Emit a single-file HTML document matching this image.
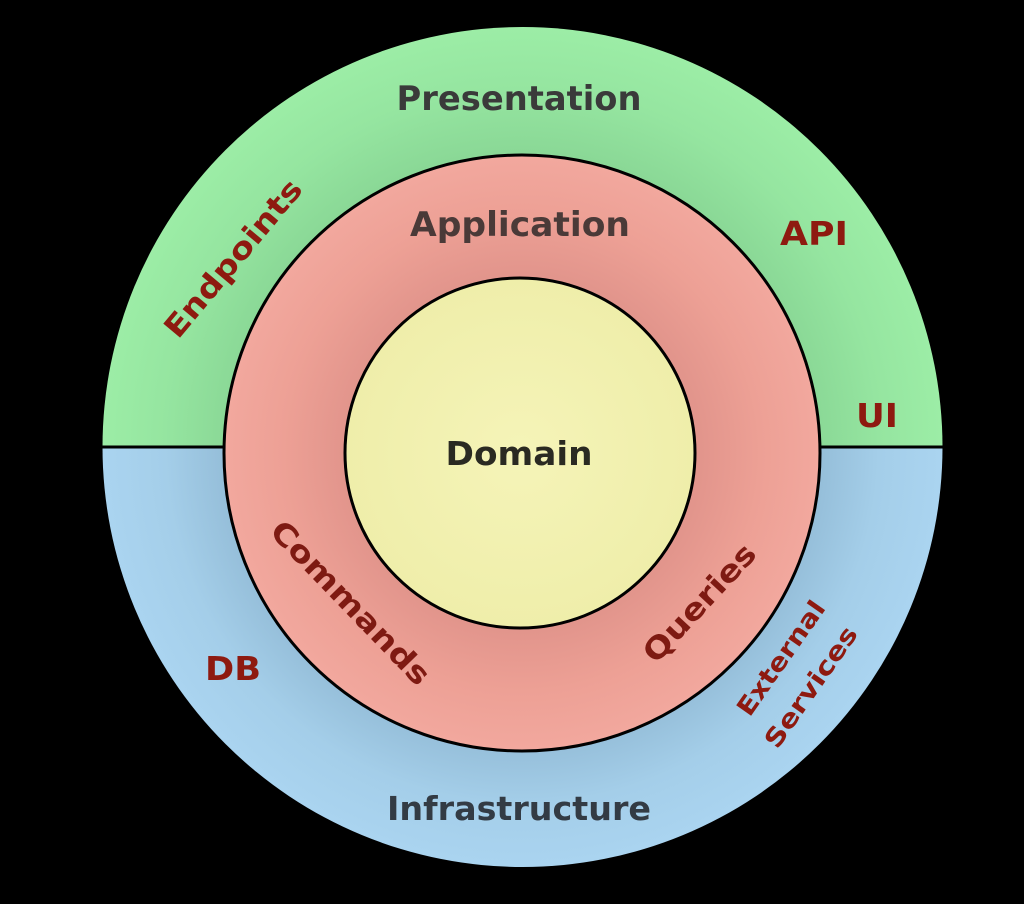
<!DOCTYPE html>
<html><head><meta charset="utf-8"><style>
html,body{margin:0;padding:0;background:#000;width:1024px;height:904px;overflow:hidden}
svg{display:block}
text{font-family:"DejaVu Sans","Liberation Sans",sans-serif;font-weight:bold}
</style></head><body>
<svg width="1024" height="904" viewBox="0 0 1024 904">
<defs>
<radialGradient id="g" cx="522" cy="447" r="420" gradientUnits="userSpaceOnUse">
<stop offset="0.7" stop-color="#8ad896"/><stop offset="0.85" stop-color="#95e5a0"/><stop offset="1" stop-color="#9ceda6"/></radialGradient>
<radialGradient id="b" cx="522" cy="447" r="420" gradientUnits="userSpaceOnUse">
<stop offset="0.7" stop-color="#94bdd8"/><stop offset="0.85" stop-color="#a4cee9"/><stop offset="1" stop-color="#aad4f0"/></radialGradient>
<radialGradient id="r" cx="522" cy="453" r="298" gradientUnits="userSpaceOnUse">
<stop offset="0.6" stop-color="#e2958c"/><stop offset="0.8" stop-color="#eda095"/><stop offset="1" stop-color="#f2a89e"/></radialGradient>
<radialGradient id="y" cx="520" cy="453" r="175" gradientUnits="userSpaceOnUse">
<stop offset="0" stop-color="#f5f4b8"/><stop offset="1" stop-color="#efeeaa"/></radialGradient>
</defs>
<path d="M102.5,447 A420,420 0 0 1 942.5,447 Z" fill="url(#g)"/>
<path d="M102.5,447 A420,420 0 0 0 942.5,447 Z" fill="url(#b)"/>
<line x1="102" y1="447" x2="943" y2="447" stroke="#000" stroke-width="3"/>
<circle cx="522" cy="453" r="298" fill="url(#r)" stroke="#000" stroke-width="3"/>
<circle cx="520" cy="453" r="175" fill="url(#y)" stroke="#000" stroke-width="3"/>
<g text-anchor="middle">
<text x="519" y="110" font-size="34" fill="#3a3a3a" textLength="245" lengthAdjust="spacingAndGlyphs">Presentation</text>
<text x="520" y="236" font-size="34" fill="#4a3a38" textLength="220" lengthAdjust="spacingAndGlyphs">Application</text>
<text x="519" y="465" font-size="33" fill="#2a2a22" textLength="147" lengthAdjust="spacingAndGlyphs">Domain</text>
<text x="519" y="820" font-size="33" fill="#333b44" textLength="264" lengthAdjust="spacingAndGlyphs">Infrastructure</text>
<text x="814" y="245" font-size="33" fill="#8e1a10" textLength="68" lengthAdjust="spacingAndGlyphs">API</text>
<text x="877" y="427" font-size="33" fill="#8e1a10" textLength="42" lengthAdjust="spacingAndGlyphs">UI</text>
<text x="233" y="680" font-size="33" fill="#8e1a10" textLength="56" lengthAdjust="spacingAndGlyphs">DB</text>
<text transform="translate(241,265) rotate(-50)" font-size="30" fill="#8e1a10" textLength="196" lengthAdjust="spacingAndGlyphs">Endpoints</text>
<text transform="translate(343,610) rotate(46)" font-size="30" fill="#7e1a12" textLength="215" lengthAdjust="spacingAndGlyphs">Commands</text>
<text transform="translate(707,610) rotate(-47)" font-size="30" fill="#7e1a12" textLength="150" lengthAdjust="spacingAndGlyphs">Queries</text>
<text transform="translate(788,663) rotate(-55)" font-size="25" fill="#8e1a10" textLength="134" lengthAdjust="spacingAndGlyphs">External</text>
<text transform="translate(818,692) rotate(-55)" font-size="25" fill="#8e1a10" textLength="142" lengthAdjust="spacingAndGlyphs">Services</text>
</g>
</svg>
</body></html>
